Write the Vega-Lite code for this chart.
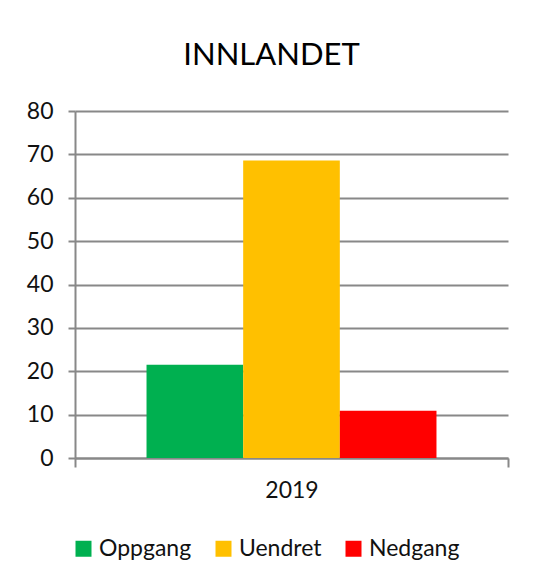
{
  "$schema": "https://vega.github.io/schema/vega-lite/v6.json",
  "autosize": {"type": "none"},
  "width": 433,
  "height": 347,
  "padding": {"left": 75, "top": 111, "right": 26, "bottom": 127},
  "background": "white",
  "title": {
    "text": "INNLANDET",
    "font": "Lato",
    "fontSize": 31,
    "fontWeight": "normal",
    "color": "#000000",
    "anchor": "middle",
    "frame": "group",
    "dx": -20,
    "baseline": "alphabetic",
    "offset": 4
  },
  "data": {
    "values": [
      {"year": "2019", "category": "Oppgang", "value": 21.5},
      {"year": "2019", "category": "Uendret", "value": 68.6},
      {"year": "2019", "category": "Nedgang", "value": 10.9}
    ]
  },
  "mark": {"type": "bar"},
  "encoding": {
    "x": {
      "field": "year",
      "type": "nominal",
      "scale": {"paddingInner": 0, "paddingOuter": 0},
      "axis": {
        "title": null,
        "labelAngle": 0,
        "tickBand": "extent",
        "tickSize": 9,
        "tickWidth": 2,
        "tickColor": "#888888",
        "domainColor": "#888888",
        "domainWidth": 2,
        "labelFont": "Lato",
        "labelFontSize": 23,
        "labelColor": "#111111",
        "labelPadding": 12,
        "grid": false
      }
    },
    "xOffset": {
      "field": "category",
      "type": "nominal",
      "sort": ["Oppgang", "Uendret", "Nedgang"],
      "scale": {"paddingInner": 0, "paddingOuter": 0.74}
    },
    "y": {
      "field": "value",
      "type": "quantitative",
      "scale": {"domain": [0, 80], "nice": false},
      "axis": {
        "title": null,
        "values": [0, 10, 20, 30, 40, 50, 60, 70, 80],
        "tickSize": 7,
        "tickWidth": 2,
        "tickColor": "#888888",
        "domainColor": "#888888",
        "domainWidth": 2,
        "gridColor": "#888888",
        "gridWidth": 2,
        "labelFont": "Lato",
        "labelFontSize": 23,
        "labelColor": "#111111",
        "labelPadding": 15
      }
    },
    "color": {
      "field": "category",
      "type": "nominal",
      "sort": ["Oppgang", "Uendret", "Nedgang"],
      "scale": {
        "domain": ["Oppgang", "Uendret", "Nedgang"],
        "range": ["#00B050", "#FFC000", "#FF0000"]
      },
      "legend": {
        "title": null,
        "orient": "none",
        "direction": "horizontal",
        "legendX": -3,
        "legendY": 426,
        "symbolType": "square",
        "symbolSize": 256,
        "symbolStrokeWidth": 0,
        "labelFont": "Lato",
        "labelFontSize": 23,
        "labelColor": "#111111",
        "labelOffset": 4,
        "columnPadding": 20
      }
    }
  },
  "config": {
    "view": {"stroke": null}
  }
}
